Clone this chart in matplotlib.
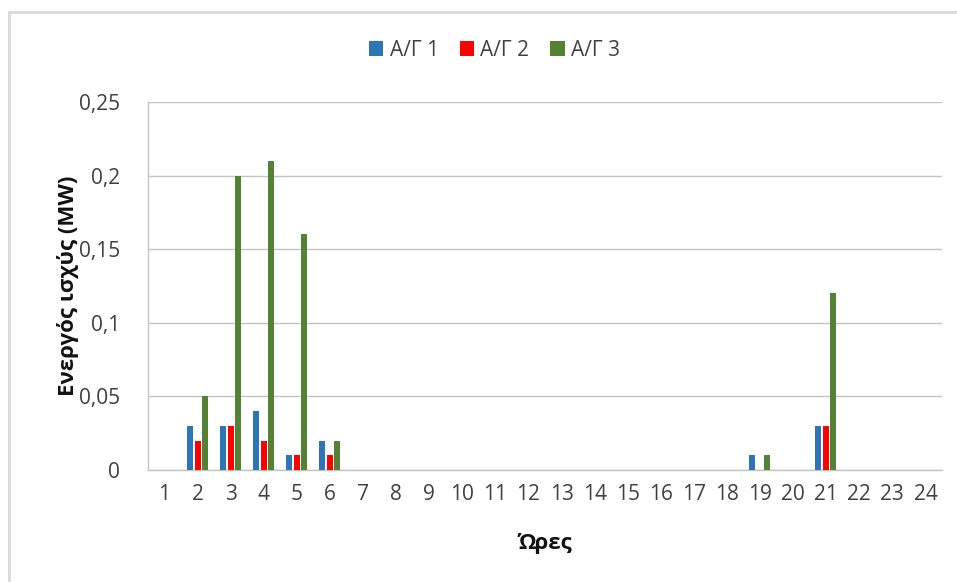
import matplotlib
matplotlib.use("Agg")
import matplotlib.pyplot as plt
from matplotlib.patches import Rectangle
import numpy as np

plt.rcParams['font.family'] = ['Open Sans', 'DejaVu Sans']

hours = list(range(1, 25))
ag1 = [0, 0.03, 0.03, 0.04, 0.01, 0.02, 0, 0, 0, 0, 0, 0,
       0, 0, 0, 0, 0, 0, 0.01, 0, 0.03, 0, 0, 0]
ag2 = [0, 0.02, 0.03, 0.02, 0.01, 0.01, 0, 0, 0, 0, 0, 0,
       0, 0, 0, 0, 0, 0, 0, 0, 0.03, 0, 0, 0]
ag3 = [0, 0.05, 0.20, 0.21, 0.16, 0.02, 0, 0, 0, 0, 0, 0,
       0, 0, 0, 0, 0, 0, 0.01, 0, 0.12, 0, 0, 0]
series_names = ['Α/Γ 1', 'Α/Γ 2', 'Α/Γ 3']
y_ticks = [0, 0.05, 0.1, 0.15, 0.2, 0.25]
y_tick_labels = ['0', '0,05', '0,1', '0,15', '0,2', '0,25']

colors = ['#2E75B6', '#FF0000', '#548235']
offsets = [-0.235, 0.0, 0.215]
bar_w = 0.18

fig = plt.figure(figsize=(9.57, 5.82), dpi=100)
ax = fig.add_axes([148 / 957, 1 - 470 / 582, (942 - 148) / 957, (470 - 102) / 582])

x = np.array(hours, dtype=float)
for vals, name, c, off in zip([ag1, ag2, ag3], series_names, colors, offsets):
    ax.bar(x + off, vals, width=bar_w, color=c, label=name, zorder=3, linewidth=0)

ax.set_xlim(0.5, 24.5)
ax.set_ylim(0, 0.25)
ax.set_yticks(y_ticks)
ax.set_yticklabels(y_tick_labels)
ax.set_xticks(hours)
ax.set_xticklabels([str(h) for h in hours])

ax.grid(axis='y', color='#c4c4c4', linewidth=1.0, zorder=0)
for side in ['top', 'right']:
    ax.spines[side].set_visible(False)
ax.spines['left'].set_color('#c4c4c4')
ax.spines['bottom'].set_color('#c4c4c4')
ax.spines['left'].set_linewidth(1.0)
ax.spines['bottom'].set_linewidth(1.0)

ax.tick_params(axis='both', length=0, labelsize=15, colors='#404040')
ax.tick_params(axis='y', pad=20)
ax.tick_params(axis='x', pad=10)

ax.set_ylabel('Ενεργός ισχύς (MW)', fontsize=16, fontweight='bold', color='#111111', labelpad=0)
ax.set_xlabel('Ώρες', fontsize=16, fontweight='bold', color='#111111', labelpad=20)

leg = fig.legend(loc='center', bbox_to_anchor=(494.5 / 957, 1 - 50 / 582), ncol=3,
                 frameon=False, fontsize=15, handlelength=0.7, handleheight=0.7,
                 handletextpad=0.3, columnspacing=1.0, labelcolor='#404040')

# light outer frame of the chart area
fig.patches.append(Rectangle((9 / 957, -0.1), 1.2, (582 - 12) / 582 + 0.1,
                             transform=fig.transFigure, fill=False,
                             edgecolor='#d9d9d9', linewidth=2.0, zorder=0))

fig.savefig('out.png', dpi=100, facecolor='white')
